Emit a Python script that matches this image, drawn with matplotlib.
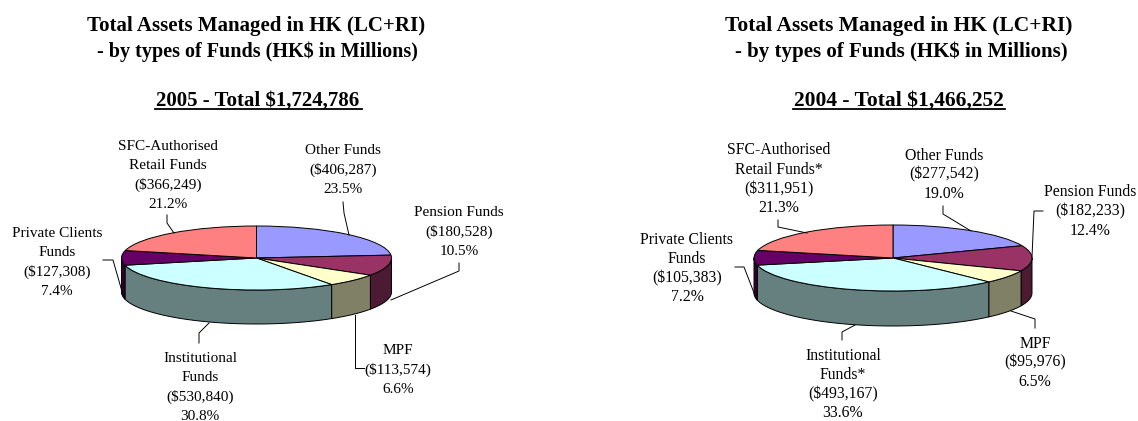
import matplotlib
matplotlib.use('Agg')
import matplotlib.pyplot as plt
import numpy as np

W, H = 1138, 421
plt.rcParams['font.family'] = ['Liberation Serif', 'DejaVu Serif']

names_2005 = ['Other Funds', 'Pension Funds', 'MPF', 'Institutional\nFunds',
              'Private Clients\nFunds', 'SFC-Authorised\nRetail Funds']
amounts_2005 = [406287, 180528, 113574, 530840, 127308, 366249]
pct_2005 = [23.5, 10.5, 6.6, 30.8, 7.4, 21.2]

names_2004 = ['Other Funds', 'Pension Funds', 'MPF', 'Institutional\nFunds*',
              'Private Clients\nFunds', 'SFC-Authorised\nRetail Funds*']
amounts_2004 = [277542, 182233, 95976, 493167, 105383, 311951]
pct_2004 = [19.0, 12.4, 6.5, 33.6, 7.2, 21.3]

top_colors = ['#9999FF', '#993366', '#FFFFCC', '#CCFFFF', '#660066', '#FF8080']
side_colors = ['#4D4D80', '#4D1A33', '#808066', '#668080', '#330033', '#804040']

# label position: x centre, y of first line (pixels)
label_pos_2005 = [(343, 150.5), (459, 212.5), (398, 350.5), (200, 358.5), (57, 233.5), (168, 146.5)]
label_pos_2004 = [(944, 155.5), (1090, 192.5), (1035, 343.5), (843, 355.5), (687, 239.5), (779, 150.5)]

leaders_2005 = [[(343, 202), (344, 213), (349, 235)],
                [(459, 263), (459, 271), (391, 300)],
                [(355, 315), (355, 368), (364, 368)],
                [(199, 343), (199, 333), (209, 323)],
                [(103, 260), (113, 260), (123, 295)],
                [(167, 215), (167, 223), (174, 233)]]
leaders_2004 = [[(943, 206), (943, 214), (971, 231)],
                [(1043, 211), (1034, 211), (1032, 257)],
                [(1035, 328), (1035, 319), (1011, 311)],
                [(842, 340), (842, 332), (855, 325)],
                [(735, 267), (744, 267), (756, 298)],
                [(778, 220), (778, 227), (807, 233)]]


def draw_pie(fig, amounts, cx, cy, rx, ry, depth):
    # unit pie squashed into an ellipse by the shape of its axes
    ax = fig.add_axes([(cx - rx) / W, 1 - (cy + ry + depth) / H, 2 * rx / W, (2 * ry + depth) / H])
    d = depth / ry
    wedges, _ = ax.pie(amounts, startangle=90, counterclock=False, colors=top_colors,
                       wedgeprops={'edgecolor': 'black', 'linewidth': 0.7, 'zorder': 3})
    ax.set_aspect('auto')
    ax.set_xlim(-1, 1)
    ax.set_ylim(-1 - d, 1)
    for w in wedges:
        w.set_clip_on(False)

    # front wall, only the part between 90 and 270 degrees clockwise from the top
    edges = np.cumsum([0] + list(amounts)) / sum(amounts) * 360
    for i in range(len(amounts)):
        a0, a1 = max(edges[i], 90), min(edges[i + 1], 270)
        if a1 <= a0:
            continue
        t = np.radians(np.linspace(a0, a1, 80))
        xs = np.sin(t)
        ys = np.cos(t)
        ax.fill(np.r_[xs, xs[::-1]], np.r_[ys, ys[::-1] - d], color=side_colors[i],
                ec='black', lw=0.7, zorder=2, clip_on=False)


def draw_labels(ov, names, amounts, pct, pos, leaders, size):
    for name, amt, p, (x, y), line in zip(names, amounts, pct, pos, leaders):
        rows = name.split('\n') + ['(${:,})'.format(amt), '{:.1f}%'.format(p)]
        for i, row in enumerate(rows):
            ov.text(x, y + i * 19.3, row, ha='center', va='center', fontsize=size,
                    color='black', parse_math=False)
        ov.plot([q[0] for q in line], [q[1] for q in line], color='black', lw=0.7, zorder=5)


def draw_title(ov, x1, x2, x3, year_text, ulx0, ulx1, size, size2):
    ov.text(x1, 25.5, 'Total Assets Managed in HK (LC+RI)', ha='center', va='center',
            fontsize=size, fontweight='bold', parse_math=False)
    ov.text(x2, 52, '- by types of Funds (HK$ in Millions)', ha='center', va='center',
            fontsize=size2, fontweight='bold', parse_math=False)
    ov.text(x3, 101, year_text, ha='center', va='center',
            fontsize=size, fontweight='bold', parse_math=False)
    ov.plot([ulx0, ulx1], [108.5, 108.5], color='black', lw=1.3)


fig = plt.figure(figsize=(W / 100, H / 100), dpi=100, facecolor='white')
ov = fig.add_axes([0, 0, 1, 1], zorder=10)
ov.set_xlim(0, W)
ov.set_ylim(H, 0)
ov.axis('off')

draw_pie(fig, amounts_2005, 256.5, 258, 135, 32, 34)
draw_pie(fig, amounts_2004, 893, 258, 139, 33, 35)

draw_labels(ov, names_2005, amounts_2005, pct_2005, label_pos_2005, leaders_2005, 11)
draw_labels(ov, names_2004, amounts_2004, pct_2004, label_pos_2004, leaders_2004, 11.3)

draw_title(ov, 256.5, 257.5, 258, '2005 - Total $1,724,786', 155, 362, 15, 14.5)
draw_title(ov, 899, 901, 899, '2004 - Total $1,466,252', 793, 1005, 15.5, 15)

fig.savefig('out.png', dpi=100)
